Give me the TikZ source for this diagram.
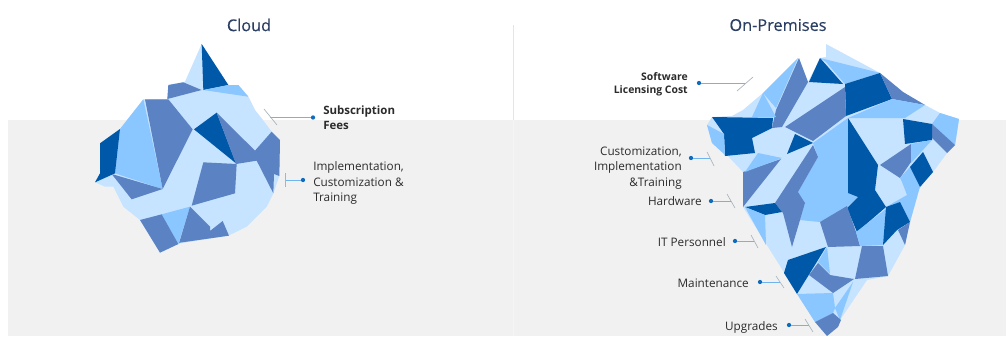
\documentclass[tikz,border=0pt]{standalone}
\usepackage{fontspec}
\setmainfont{Open Sans}
\newfontfamily\headfont[FakeBold=0.35]{Open Sans}
\definecolor{lightb}{HTML}{C6E3FF}
\definecolor{midl}{HTML}{8AC6FF}
\definecolor{midb}{HTML}{5B83C3}
\definecolor{darkb}{HTML}{0058A8}
\definecolor{greybg}{HTML}{F1F1F1}
\definecolor{titlec}{HTML}{2B3E63}
\definecolor{textc}{HTML}{2B2B2B}
\definecolor{connc}{HTML}{6FB4EE}
\definecolor{dotc}{HTML}{0F6CBD}
\definecolor{tickc}{HTML}{A9B4BE}
\tikzset{
  lb/.style={fill=lightb},
  ml/.style={fill=midl},
  mb/.style={fill=midb},
  db/.style={fill=darkb},
  titlelabel/.style={font=\headfont\fontsize{12.2}{14}\selectfont,text=titlec,inner sep=0pt},
  itemleft/.style={font=\fontsize{8.8}{11.6}\selectfont,text=textc,align=left,anchor=west,inner sep=0pt},
  itemright/.style={font=\fontsize{8.8}{11.6}\selectfont,text=textc,align=right,anchor=east,inner sep=0pt},
  dotn/.style={circle,fill=dotc,minimum size=3.2pt,inner sep=0pt},
  conn/.style={draw=connc,line width=0.75pt},
  tickl/.style={draw=tickc,line width=0.5pt}
}
\begin{document}
\begin{tikzpicture}[x=0.75pt,y=-0.75pt]
\useasboundingbox (0,0) rectangle (1006,336);
\fill[white] (0,0) rectangle (1006,336);
\fill[greybg] (8,120) rectangle (1006,336);
\draw[draw=black!10,line width=0.4pt] (513,25) -- (513,120);
\draw[draw=black!4,line width=0.6pt] (513,120) -- (513,336);

\node[titlelabel] (t1) at (249,25) {Cloud};
\node[titlelabel] (t2) at (778,25) {On-Premises};

% Cloud iceberg
\begin{scope}[shift={(80,30)},scale=1/3]
\fill[lb] (365,42)--(315,155)--(265,165)--(262,207)--(190,208)--(120,297)--(60,340)--(60,430)--(45,457)--(75,470)--(100,470)--(130,530)--(180,570)--(240,668)--(300,640)--(445,617)--(500,590)--(560,530)--(580,490)--(598,438)--(600,330)--(575,305)--(545,265)--(525,240)--(505,200)--(475,165)--(445,165)--cycle;
\fill[db] (365,42)--(445,165)--(370,180)--cycle;
\fill[ml] (370,180)--(445,165)--(475,165)--(505,200)--cycle;
\fill[mb] (265,165)--(310,157)--(365,180)--(262,207)--cycle;
\fill[ml] (190,208)--(120,297)--(105,430)--(248,477)--cycle;
\fill[mb] (195,208)--(265,208)--(338,298)--(248,477)--cycle;
\fill[db] (120,297)--(60,340)--(60,430)--(45,457)--(105,430)--cycle;
\fill[mb] (95,432)--(248,477)--(155,508)--cycle;
\fill[db] (410,248)--(342,298)--(468,400)--cycle;
\fill[mb] (410,248)--(468,402)--(530,392)--(580,490)--(582,432)--(598,438)--(600,330)--(575,305)--(525,362)--cycle;
\fill[mb] (370,397)--(470,402)--(465,490)--(335,527)--cycle;
\fill[ml] (245,553)--(330,530)--(295,642)--cycle;
\fill[mb] (180,570)--(245,553)--(295,642)--(240,668)--cycle;
\fill[mb] (330,530)--(390,590)--(390,603)--(428,573)--(447,617)--(300,638)--(297,640)--cycle;
\end{scope}

% On-premises iceberg
\fill[lb] (826,44)--(880,73)--(903,92)--(925,105)--(940,113)--(959,119)--(957,133)--(955,145)--(947,153)--(933,172)--(920,187)--(919,190)--(910,222)--(905,245)--(888,276)--(867,280)--(840,320)--(827,336)--(815,322)--(797,293)--(743,207)--(743,172)--(727,155)--(712,143)--(707,125)--(712,117)--(732,116)--(743,110)--(763,93)--(798,58)--(808,82)--(820,58)--(826,57)--cycle;
\fill[ml] (820,58)--(880,73)--(845,84)--(826,62)--cycle;
\fill[db] (820,58)--(843,84)--(809,82)--cycle;
\fill[db] (845,84)--(880,73)--(892,99)--(846,116)--cycle;
\fill[mb] (880,73)--(903,92)--(925,105)--(892,99)--cycle;
\fill[ml] (892,99)--(925,105)--(905,118)--(848,118)--cycle;
\fill[ml] (940,113)--(959,119)--(955,145)--(932,124)--cycle;
\fill[mb] (932,124)--(955,145)--(947,153)--(932,138)--cycle;
\fill[db] (903,119)--(932,124)--(932,140)--(905,144)--cycle;
\fill[mb] (911,144)--(911,162)--(900,178)--(880,165)--cycle;
\fill[ml] (911,144)--(932,140)--(911,163)--cycle;
\fill[ml] (900,178)--(910,167)--(920,187)--(919,190)--(910,222)--(900,202)--(886,207)--(907,195)--(902,182)--cycle;
\fill[db] (923,152)--(933,172)--(920,187)--(910,167)--cycle;
\fill[ml] (848,118)--(813,143)--(818,157)--(798,192)--(805,203)--(800,220)--(820,222)--(847,207)--(858,197)--(848,193)--cycle;
\fill[db] (848,118)--(878,165)--(875,190)--(886,207)--(857,232)--(847,208)--(858,197)--(848,193)--cycle;
\fill[mb] (820,222)--(847,206)--(856,232)--(860,246)--(828,247)--cycle;
\fill[ml] (856,232)--(886,209)--(883,245)--(860,246)--cycle;
\fill[db] (886,207)--(900,202)--(910,222)--(897,230)--(883,245)--cycle;
\fill[mb] (910,222)--(905,245)--(898,230)--cycle;
\fill[mb] (862,246)--(883,246)--(888,276)--(855,279)--cycle;
\fill[ml] (827,247)--(818,262)--(830,274)--cycle;
\fill[db] (826,247)--(788,260)--(784,273)--(797,294)--cycle;
\fill[mb] (818,263)--(830,275)--(854,279)--(833,293)--(809,275)--cycle;
\fill[ml] (797,294)--(833,293)--(835,308)--(833,313)--(815,322)--cycle;
\fill[ml] (853,282)--(835,308)--(840,320)--cycle;
\fill[mb] (815,322)--(833,313)--(841,320)--(838,327)--(827,336)--cycle;
\fill[mb] (743,172)--(781,159)--(743,207)--cycle;
\fill[mb] (813,145)--(818,157)--(798,192)--(805,203)--(800,220)--(792,247)--(783,213)--(775,203)--cycle;
\fill[db] (745,207)--(775,203)--(782,212)--(765,215)--cycle;
\fill[ml] (745,207)--(765,215)--(766,245)--cycle;
\fill[ml] (758,153)--(782,158)--(745,172)--cycle;
\fill[db] (712,117)--(773,118)--(772,128)--(752,138)--(755,153)--(725,156)--(724,134)--cycle;
\fill[ml] (707,125)--(724,134)--(725,155)--(712,143)--cycle;
\fill[db] (795,134)--(813,143)--(787,154)--cycle;
\fill[mb] (845,87)--(846,116)--(813,141)--(785,127)--cycle;
\fill[mb] (799,58)--(808,82)--(782,127)--(772,128)--(776,110)--cycle;
\fill[ml] (763,93)--(776,117)--(752,117)--cycle;
\fill[ml] (763,93)--(798,58)--(776,108)--cycle;

% Labels
\node[itemleft,font=\fontsize{8.6}{11.6}\selectfont\bfseries] (subs) at (323,117.5) {Subscription\\Fees};
\node[itemleft] (impl) at (313,183) {Implementation,\\Customization \&\\Training};
\node[itemright,font=\fontsize{7.8}{9.8}\selectfont\bfseries] (soft) at (688,84) {Software\\Licensing Cost};
\node[itemright] (cust) at (682,168) {Customization,\\Implementation\\\&Training};
\node[itemright] (hard) at (702,201) {Hardware};
\node[itemright] (itp) at (726,242) {IT Personnel};
\node[itemright] (main) at (749,283) {Maintenance};
\node[itemright] (upg) at (778,327) {Upgrades};

% Connectors
\node[dotn] (d1) at (313,117.5) {};
\node[dotn] (d2) at (303,180) {};
\node[dotn] (d3) at (699,83) {};
\node[dotn] (d4) at (691,158) {};
\node[dotn] (d5) at (711,201) {};
\node[dotn] (d6) at (735,241) {};
\node[dotn] (d7) at (760,282) {};
\node[dotn] (d8) at (789,325) {};
\coordinate (e1) at (270,117.5);
\coordinate (e2) at (285,180);
\coordinate (e3) at (745,83);
\coordinate (e4) at (710,158);
\coordinate (e5) at (731,201);
\coordinate (e6) at (754,241);
\coordinate (e7) at (780,282);
\coordinate (e8) at (809,325);
\draw[conn] (d1) -- (e1);
\draw[conn] (d2) -- (e2);
\draw[conn] (d3) -- (e3);
\draw[conn] (d4) -- (e4);
\draw[conn] (d5) -- (e5);
\draw[conn] (d6) -- (e6);
\draw[conn] (d7) -- (e7);
\draw[conn] (d8) -- (e8);
\draw[tickl] (264,109) -- (277,125);
\draw[tickl] (285,173) -- (285,187);
\draw[tickl] (753,77) -- (737,91);
\draw[tickl] (707,152) -- (714,166);
\draw[tickl] (727,194) -- (735,208);
\draw[tickl] (751,235) -- (758,248);
\draw[tickl] (776,276) -- (784,288);
\draw[tickl] (805,319) -- (813,332);
\end{tikzpicture}
\end{document}
